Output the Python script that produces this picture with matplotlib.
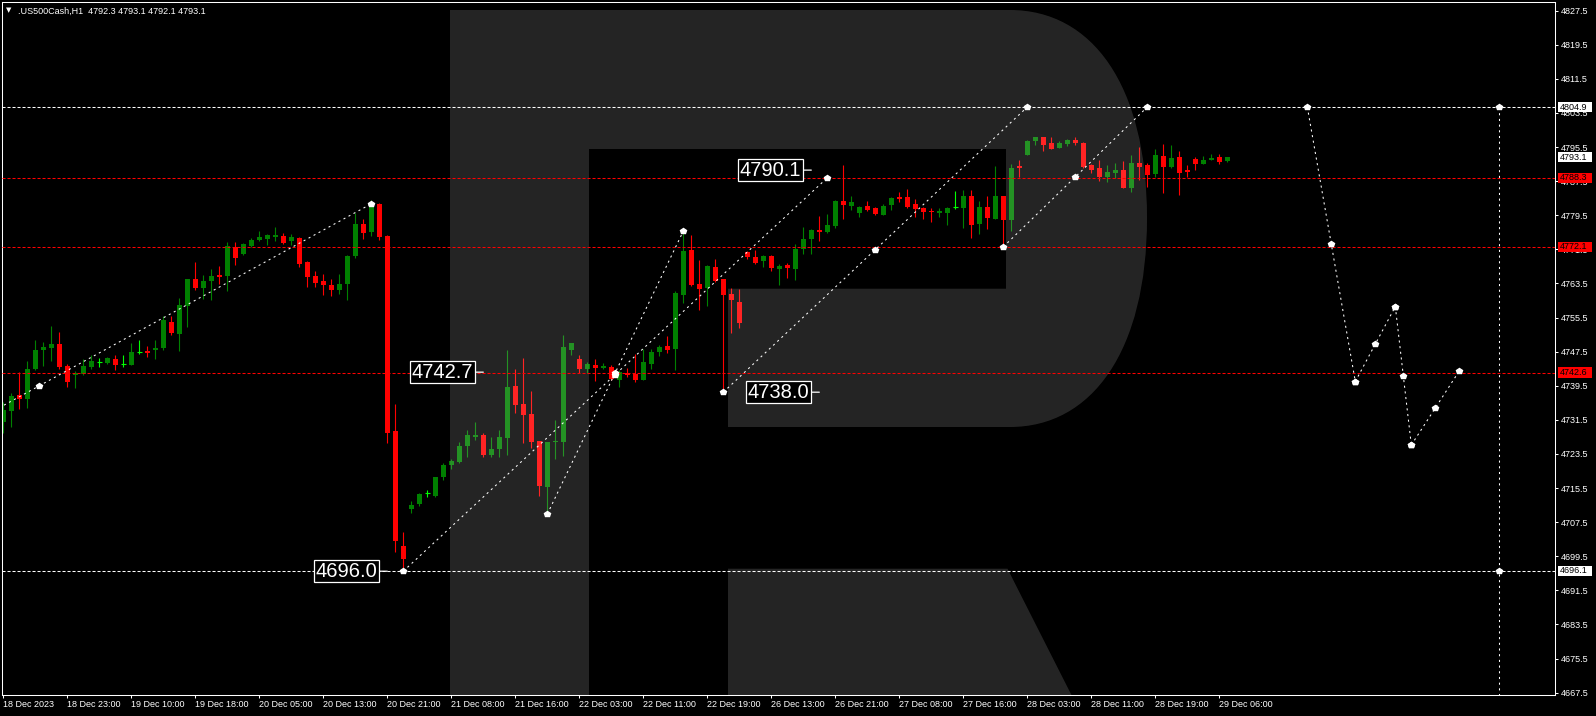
import matplotlib
matplotlib.use("Agg")
import matplotlib.pyplot as plt
import numpy as np
from matplotlib.path import Path
from matplotlib.patches import PathPatch, Rectangle
from matplotlib.transforms import Affine2D, blended_transform_factory

plt.rcParams['font.family'] = ['Liberation Sans', 'DejaVu Sans']
plt.rcParams['lines.scale_dashes'] = False

# hourly candles, one row per bar: open, high, low, close
opens = [4731.1, 4733.7, 4737.3, 4736.3, 4743.4, 4747.9, 4748.4, 4749.3, 4744.1, 4742.1,
         4742.3, 4743.9, 4745.0, 4744.9, 4745.8, 4744.6, 4744.4, 4747.5, 4747.7, 4747.9,
         4748.4, 4754.5, 4751.7, 4758.2, 4764.6, 4762.4, 4764.1, 4765.5, 4765.3, 4772.0,
         4770.4, 4772.3, 4773.7, 4773.9, 4774.4, 4774.7, 4773.5, 4774.2, 4768.5, 4765.3,
         4764.1, 4763.1, 4761.9, 4763.4, 4769.9, 4777.4, 4775.6, 4782.1, 4774.6, 4729.0,
         4702.0, 4710.6, 4711.8, 4714.3, 4713.7, 4718.1, 4720.9, 4721.7, 4725.4, 4727.5,
         4727.9, 4723.2, 4724.7, 4727.3, 4739.5, 4735.2, 4732.9, 4726.5, 4715.8, 4726.3,
         4726.4, 4747.9, 4745.8, 4743.5, 4744.4, 4743.6, 4743.9, 4740.9, 4742.4, 4742.3,
         4740.9, 4744.7, 4747.5, 4748.8, 4748.1, 4760.8, 4771.3, 4763.4, 4762.4, 4767.3,
         4764.6, 4761.1, 4759.1, 4770.8, 4769.8, 4768.7, 4769.9, 4767.0, 4767.8, 4767.0,
         4771.6, 4773.9, 4776.0, 4775.6, 4777.0, 4782.9, 4781.7, 4780.0, 4781.7, 4781.2,
         4779.6, 4781.9, 4783.8, 4783.8, 4782.2, 4781.2, 4780.4, 4780.0, 4780.0, 4781.4,
         4781.2, 4784.0, 4777.4, 4781.4, 4778.6, 4784.0, 4778.4, 4791.1, 4793.6, 4796.9,
         4797.9, 4796.4, 4795.3, 4796.2, 4797.1, 4796.4, 4791.3, 4790.6, 4788.5, 4789.4,
         4790.1, 4785.9, 4791.8, 4791.3, 4789.2, 4793.4, 4790.8, 4793.1, 4790.1, 4792.7,
         4791.5, 4792.5, 4793.1, 4792.3]
highs = [4735.8, 4737.7, 4742.7, 4745.3, 4750.2, 4749.7, 4753.6, 4752.1, 4744.5, 4743.0,
         4745.8, 4746.7, 4746.0, 4746.3, 4746.7, 4746.7, 4749.5, 4750.2, 4748.8, 4750.2,
         4755.9, 4755.9, 4760.1, 4764.6, 4768.5, 4765.5, 4766.9, 4767.6, 4773.2, 4773.2,
         4773.0, 4774.2, 4775.8, 4775.1, 4776.8, 4775.3, 4775.1, 4774.4, 4768.8, 4766.4,
         4765.7, 4764.6, 4765.7, 4770.2, 4780.0, 4778.6, 4783.1, 4782.4, 4774.9, 4735.2,
         4705.3, 4712.5, 4714.4, 4715.1, 4718.2, 4721.3, 4722.3, 4726.3, 4729.1, 4731.0,
         4728.4, 4727.6, 4729.1, 4747.8, 4743.4, 4746.0, 4738.3, 4726.5, 4726.3, 4731.5,
         4751.4, 4749.5, 4746.7, 4745.1, 4745.8, 4744.8, 4744.4, 4743.2, 4743.7, 4747.0,
         4748.1, 4748.1, 4749.1, 4751.2, 4761.7, 4776.1, 4774.9, 4769.0, 4767.8, 4769.3,
         4764.6, 4762.4, 4762.2, 4771.2, 4771.4, 4770.2, 4770.3, 4768.0, 4768.3, 4772.7,
         4776.8, 4776.4, 4779.3, 4779.7, 4783.1, 4791.3, 4784.0, 4781.7, 4782.9, 4781.4,
         4782.2, 4783.8, 4785.0, 4785.7, 4783.3, 4781.4, 4781.2, 4781.2, 4781.4, 4785.2,
         4785.4, 4785.4, 4782.9, 4784.0, 4791.1, 4784.0, 4791.5, 4792.5, 4797.2, 4797.9,
         4797.9, 4797.9, 4796.9, 4797.4, 4797.9, 4796.7, 4791.5, 4792.5, 4791.3, 4791.8,
         4792.2, 4793.6, 4795.5, 4791.8, 4795.0, 4796.2, 4795.9, 4794.6, 4791.3, 4793.2,
         4793.4, 4793.9, 4793.9, 4793.1]
lows = [4728.4, 4729.9, 4734.1, 4734.4, 4743.2, 4744.1, 4745.3, 4743.5, 4739.3, 4739.1,
        4742.0, 4743.5, 4744.0, 4744.7, 4743.2, 4743.9, 4744.4, 4747.0, 4746.3, 4745.8,
        4747.9, 4751.3, 4747.7, 4753.4, 4761.9, 4759.9, 4759.6, 4763.4, 4761.7, 4767.8,
        4770.2, 4772.0, 4773.5, 4772.5, 4773.5, 4772.7, 4772.5, 4767.4, 4762.7, 4762.7,
        4760.8, 4760.6, 4761.0, 4759.6, 4769.4, 4773.9, 4774.6, 4773.7, 4726.0, 4700.6,
        4696.0, 4709.7, 4711.4, 4713.5, 4713.4, 4717.3, 4719.9, 4721.5, 4722.9, 4726.8,
        4722.9, 4722.9, 4722.7, 4723.2, 4733.2, 4726.1, 4725.0, 4713.7, 4709.4, 4722.3,
        4723.1, 4746.8, 4742.6, 4742.6, 4740.6, 4743.4, 4740.9, 4739.2, 4741.5, 4740.5,
        4740.9, 4743.4, 4746.6, 4747.3, 4743.2, 4759.0, 4762.9, 4757.3, 4758.2, 4763.9,
        4738.0, 4751.8, 4753.1, 4769.2, 4768.0, 4767.4, 4766.5, 4763.2, 4764.9, 4764.3,
        4770.5, 4770.4, 4773.5, 4775.3, 4776.6, 4778.6, 4780.7, 4779.2, 4780.5, 4779.6,
        4779.6, 4780.7, 4782.6, 4781.2, 4779.1, 4778.6, 4778.0, 4779.1, 4777.2, 4781.0,
        4776.5, 4774.2, 4775.1, 4776.3, 4778.6, 4772.3, 4775.8, 4788.5, 4793.6, 4796.0,
        4794.6, 4795.0, 4795.2, 4795.7, 4796.0, 4790.6, 4789.4, 4787.6, 4787.3, 4788.2,
        4785.9, 4784.9, 4787.8, 4786.1, 4788.5, 4784.7, 4790.6, 4784.3, 4788.5, 4790.1,
        4791.5, 4792.5, 4791.5, 4792.1]
closes = [4733.8, 4737.1, 4736.3, 4743.4, 4747.9, 4748.7, 4749.3, 4743.9, 4740.5, 4742.4,
          4744.1, 4745.3, 4745.0, 4746.0, 4744.4, 4744.6, 4747.4, 4747.5, 4747.2, 4748.4,
          4754.9, 4751.9, 4758.5, 4764.6, 4762.4, 4764.1, 4765.3, 4765.0, 4772.3, 4769.4,
          4772.8, 4773.7, 4774.4, 4774.9, 4774.9, 4773.0, 4774.4, 4768.1, 4765.0, 4763.6,
          4763.1, 4761.9, 4763.4, 4769.9, 4777.4, 4775.3, 4781.7, 4774.4, 4728.4, 4703.0,
          4698.9, 4711.5, 4714.1, 4714.3, 4718.1, 4720.9, 4721.9, 4725.4, 4727.9, 4727.9,
          4723.2, 4724.6, 4727.5, 4739.2, 4735.0, 4732.6, 4726.4, 4716.0, 4726.3, 4726.6,
          4748.7, 4749.5, 4743.5, 4744.7, 4743.6, 4744.1, 4741.1, 4742.7, 4742.0, 4740.9,
          4745.1, 4747.5, 4748.6, 4748.0, 4761.3, 4771.1, 4763.1, 4762.2, 4767.6, 4764.1,
          4760.8, 4759.7, 4754.2, 4769.7, 4768.4, 4769.9, 4767.2, 4767.6, 4767.2, 4771.6,
          4773.9, 4776.0, 4775.6, 4777.2, 4782.9, 4781.9, 4782.6, 4781.4, 4780.8, 4779.8,
          4781.7, 4783.6, 4783.3, 4781.4, 4781.0, 4780.3, 4780.2, 4780.4, 4781.2, 4781.4,
          4784.0, 4777.2, 4781.4, 4778.9, 4784.0, 4778.4, 4790.6, 4790.7, 4796.9, 4797.9,
          4796.0, 4795.1, 4796.4, 4797.1, 4796.4, 4790.8, 4790.1, 4788.5, 4789.6, 4790.1,
          4785.9, 4791.8, 4790.8, 4788.9, 4793.6, 4790.8, 4792.9, 4789.4, 4789.7, 4791.5,
          4792.5, 4793.0, 4791.9, 4793.1]

time_labels = ['18 Dec 2023', '18 Dec 23:00', '19 Dec 10:00', '19 Dec 18:00', '20 Dec 05:00',
               '20 Dec 13:00', '20 Dec 21:00', '21 Dec 08:00', '21 Dec 16:00', '22 Dec 03:00',
               '22 Dec 11:00', '22 Dec 19:00', '26 Dec 13:00', '26 Dec 21:00', '27 Dec 08:00',
               '27 Dec 16:00', '28 Dec 03:00', '28 Dec 11:00', '28 Dec 19:00', '29 Dec 06:00']
price_ticks = np.arange(4667.5, 4828.0, 8.0)

red_levels = [4788.3, 4772.1, 4742.6]
white_levels = [4804.9, 4696.1]

# dashed segments (start bar, start price, end bar, end price), marks at both ends and middle
seg_x0 = [-37, 50, 68, 90, 125, 163, 169, 174, 176, 187]
seg_y0 = [4696.8, 4696.0, 4709.4, 4738.0, 4772.1, 4804.9, 4740.5, 4758.1, 4725.6, 4804.9]
seg_x1 = [46, 103, 85, 128, 143, 169, 174, 176, 182, 187]
seg_y1 = [4782.2, 4788.3, 4775.8, 4804.9, 4804.9, 4740.5, 4758.1, 4725.6, 4743.0, 4587.3]

box_prices = [4790.1, 4742.7, 4738.0, 4696.0]
box_bars = [101, 60, 102, 48]

W, HP = 1596, 716
fig = plt.figure(figsize=(W / 100, HP / 100), dpi=100, facecolor='black')
ax = fig.add_axes([2 / W, (HP - 695) / HP, 1553 / W, 693 / HP])
ax.set_facecolor('black')
ax.set_xlim(-0.1625, 193.96)
ax.set_ylim(4666.96, 4829.54)

px = Affine2D().scale(1 / W, -1 / HP).translate(0, 1) + fig.transFigure

O = np.array(opens); Hh = np.array(highs); L = np.array(lows); C = np.array(closes)
x = np.arange(len(O))
up = C > O
dn = C < O
dj = C == O
body = np.maximum(np.abs(C - O), 0.3)
base = np.minimum(O, C)
green, red, lime = '#008000', '#ff0000', '#00ff00'

ax.vlines(x[up], L[up], Hh[up], color=green, lw=0.8, zorder=1)
ax.vlines(x[dn], L[dn], Hh[dn], color=red, lw=0.8, zorder=1)
ax.vlines(x[dj], L[dj], Hh[dj], color=lime, lw=0.8, zorder=1)
ax.bar(x[up], body[up], bottom=base[up], width=0.625, color=green, lw=0, zorder=1.5)
ax.bar(x[dn], body[dn], bottom=base[dn], width=0.625, color=red, lw=0, zorder=1.5)
ax.hlines(O[dj], x[dj] - 0.3125, x[dj] + 0.3125, color=lime, lw=0.8, zorder=1.5)

# logo watermark
MV, LN, CV, CL = Path.MOVETO, Path.LINETO, Path.CURVE4, Path.CLOSEPOLY
verts = [(450, 10), (1010, 10), (1092, 10), (1147, 85), (1147, 218),
         (1147, 351), (1092, 427), (1010, 427), (728, 427), (728, 288.7),
         (1006, 288.7), (1006, 149), (589, 149), (589, 700), (450, 700), (450, 10),
         (728, 568.7), (1007.5, 568.7), (1074, 700), (728, 700), (728, 568.7)]
codes = [MV, LN, CV, CV, CV, CV, CV, CV, LN, LN, LN, LN, LN, LN, LN, CL,
         MV, LN, LN, LN, CL]
ax.add_patch(PathPatch(Path(verts, codes), transform=px, fc='white', alpha=0.145,
                       ec='none', zorder=2.5))

for lv in red_levels:
    ax.axhline(lv, color=red, lw=0.75, ls=(0, (2.2, 1.4)), zorder=3)
for lv in white_levels:
    ax.axhline(lv, color='white', lw=0.75, ls=(0, (2.2, 1.4)), zorder=3)

for a, b, c, d in zip(seg_x0, seg_y0, seg_x1, seg_y1):
    ax.plot([a, c], [b, d], color='white', lw=0.75, ls=(0, (1.5, 2.6)), zorder=3)
    ax.plot([a, (a + c) / 2, c], [b, (b + d) / 2, d], 'p', color='white', ms=4,
            mec='white', zorder=4)

for p, b in zip(box_prices, box_bars):
    ax.annotate(f'{p:.1f}', xy=(b, p), xytext=(-10, 0), textcoords='offset pixels',
                ha='right', va='center', fontsize=14.5, color='white', zorder=6,
                bbox=dict(boxstyle='square,pad=0.08', fc='black', ec='white', lw=0.9),
                arrowprops=dict(arrowstyle='-', color='white', lw=0.9, shrinkA=0, shrinkB=0))

# axes and ticks
for s in ax.spines.values():
    s.set_color('white')
    s.set_linewidth(0.75)
ax.yaxis.tick_right()
ax.set_yticks(price_ticks)
ax.set_yticklabels([f'{v:.1f}' for v in price_ticks])
ax.set_xticks(np.arange(0, 8 * len(time_labels), 8))
ax.set_xticklabels(time_labels, ha='left')
ax.tick_params(axis='both', colors='white', labelsize=6.5, width=0.75, length=2.2)
ax.tick_params(axis='x', pad=1.2)
ax.tick_params(axis='y', pad=2)

# price tags on the right scale
bt = blended_transform_factory(px, ax.transData)
tag_prices = [white_levels[0], C[-1], red_levels[0], red_levels[1], red_levels[2], white_levels[1]]
tag_colors = ['white', 'white', red, red, red, 'white']
for p, col in zip(tag_prices, tag_colors):
    ax.add_patch(Rectangle((1557.7, p - 1.21), 34.3, 2.42, transform=bt, fc=col,
                           ec='none', clip_on=False, zorder=6))
    ax.text(1560, p, f'{p:.1f}', transform=bt, ha='left', va='center', fontsize=6.5,
            color='black', clip_on=False, zorder=7)

fig.text(9 / W, 1 - 10 / HP, '\u25bc', fontsize=5, color='white', ha='center', va='center',
         family='DejaVu Sans')
fig.text(18 / W, 1 - 11 / HP,
         f'.US500Cash,H1  {O[-1]:.1f} {Hh[-1]:.1f} {L[-1]:.1f} {C[-1]:.1f}',
         fontsize=6.5, color='white', ha='left', va='center')

fig.savefig('out.png', dpi=100, facecolor='black')
